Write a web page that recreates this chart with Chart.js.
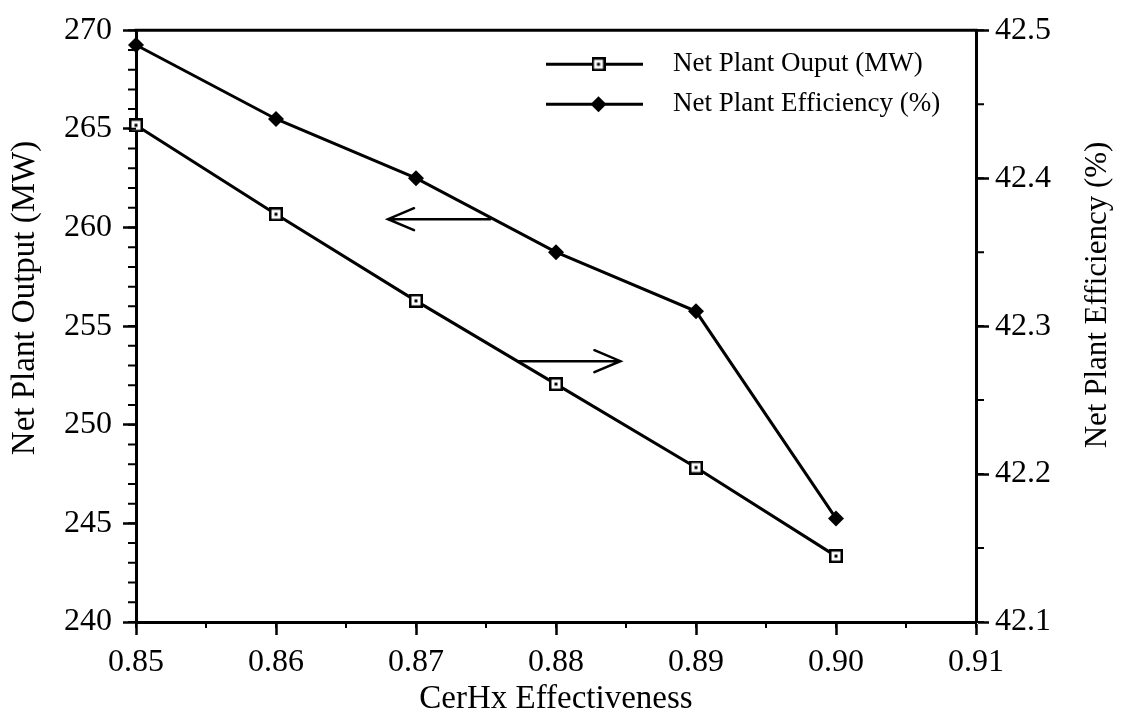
<!DOCTYPE html>
<html>
<head>
<meta charset="utf-8">
<title>Net Plant Output and Efficiency vs CerHx Effectiveness</title>
<script src="https://cdn.jsdelivr.net/npm/chart.js@4.4.1/dist/chart.umd.min.js"></script>
<style>
  body { margin: 0; background: #fff; }
  .box { position: relative; width: 1122px; height: 720px; }
</style>
</head>
<body>
<div class="box"><canvas id="chart-plant"></canvas></div>
<script>
// Data
const effectiveness = [0.85, 0.86, 0.87, 0.88, 0.89, 0.90];
const netOutput = [265.18, 260.67, 256.28, 252.06, 247.83, 243.34];   // MW
const netEfficiency = [42.49, 42.44, 42.40, 42.35, 42.31, 42.17];     // %
const xTicks = [0.85, 0.86, 0.87, 0.88, 0.89, 0.90, 0.91];
const outputTicks = [240, 245, 250, 255, 260, 265, 270];
const efficiencyTicks = [42.1, 42.2, 42.3, 42.4, 42.5];

const SERIF = "'Liberation Serif', 'Times New Roman', Times, serif";

// open square with a dot in the middle
function boxMarker(size) {
  const c = document.createElement('canvas');
  c.width = size; c.height = size;
  const g = c.getContext('2d');
  g.fillStyle = '#fff';
  g.fillRect(0, 0, size, size);
  g.strokeStyle = '#000';
  g.lineWidth = 2.5;
  g.strokeRect(1.25, 1.25, size - 2.5, size - 2.5);
  g.fillStyle = '#000';
  g.fillRect(size / 2 - 1.5, size / 2 - 1.5, 3, 3);
  return c;
}
const squarePt = boxMarker(14);

// small ticks between the labelled ones
const minorTicks = {
  id: 'minorTicks',
  afterDraw(chart) {
    const {ctx, chartArea: a, scales} = chart;
    const marks = (scale, step, fn) => {
      const n = Math.round((scale.max - scale.min) / step);
      for (let i = 0; i <= n; i++) fn(scale.getPixelForValue(scale.min + i * step));
    };
    ctx.save();
    ctx.strokeStyle = '#000';
    ctx.lineWidth = 2;
    ctx.beginPath();
    marks(scales.x, 0.005, p => { ctx.moveTo(p, a.bottom); ctx.lineTo(p, a.bottom + 6); });
    marks(scales.yOutput, 1, p => { ctx.moveTo(a.left - 8, p); ctx.lineTo(a.left, p); });
    marks(scales.yEfficiency, 0.05, p => { ctx.moveTo(a.right, p); ctx.lineTo(a.right + 8, p); });
    ctx.stroke();
    // closing line along the top
    ctx.lineWidth = 3;
    ctx.beginPath();
    ctx.moveTo(a.left - 1.5, a.top);
    ctx.lineTo(a.right + 1.5, a.top);
    ctx.stroke();
    ctx.restore();
  }
};

// rotated y titles, both reading bottom to top
const sideTitles = {
  id: 'sideTitles',
  afterDraw(chart) {
    const {ctx, chartArea: a} = chart;
    const put = (text, x, y, size) => {
      ctx.save();
      ctx.translate(x, y);
      ctx.rotate(-Math.PI / 2);
      ctx.font = size + 'px ' + SERIF;
      ctx.fillStyle = '#000';
      ctx.textAlign = 'center';
      ctx.textBaseline = 'middle';
      ctx.fillText(text, 0, 0);
      ctx.restore();
    };
    put('Net Plant Output (MW)', a.left - 111, 298, 33);
    put('Net Plant Efficiency (%)', a.right + 122, 295, 31);
  }
};

// arrows telling which axis each curve is read on
const axisArrows = {
  id: 'axisArrows',
  afterDraw(chart) {
    const {ctx, scales} = chart;
    const y = scales.yOutput, x = scales.x;
    const arrows = [
      {from: 0.8753, to: 0.8680, at: 260.42},
      {from: 0.8773, to: 0.8846, at: 253.22}
    ];
    ctx.save();
    ctx.strokeStyle = '#000';
    ctx.lineWidth = 2.5;
    ctx.lineCap = 'round';
    arrows.forEach(ar => {
      const x0 = x.getPixelForValue(ar.from), x1 = x.getPixelForValue(ar.to);
      const py = y.getPixelForValue(ar.at);
      const d = x1 > x0 ? -26 : 26;
      ctx.beginPath();
      ctx.moveTo(x0, py);
      ctx.lineTo(x1, py);
      ctx.moveTo(x1 + d, py - 11);
      ctx.lineTo(x1, py);
      ctx.lineTo(x1 + d, py + 11);
      ctx.stroke();
    });
    ctx.restore();
  }
};

// legend inside the plot, upper right
const boxLegend = {
  id: 'boxLegend',
  afterDraw(chart) {
    const {ctx, chartArea: a} = chart;
    chart.data.datasets.forEach((ds, i) => {
      const y = a.top + 34 + i * 40;
      const x0 = a.left + 410, x1 = a.left + 507;
      ctx.save();
      ctx.strokeStyle = '#000';
      ctx.fillStyle = '#000';
      ctx.lineWidth = 3;
      ctx.beginPath();
      ctx.moveTo(x0, y);
      ctx.lineTo(x1, y);
      ctx.stroke();
      Chart.helpers.drawPoint(ctx, {pointStyle: ds.pointStyle, radius: ds.pointRadius, borderWidth: 0, rotation: 0}, (x0 + x1) / 2 + 4, y);
      ctx.font = '27px ' + SERIF;
      ctx.textBaseline = 'middle';
      ctx.fillText(ds.label, a.left + 537, y);
      ctx.restore();
    });
  }
};

!function(){
  const ctx = document.getElementById('chart-plant');
  const tickFont = {family: SERIF, size: 32};

  new Chart(ctx, {
    type: 'line',
    data: {
      datasets: [{
        label: 'Net Plant Ouput (MW)',
        data: effectiveness.map((v, i) => ({x: v, y: netOutput[i]})),
        yAxisID: 'yOutput',
        borderColor: '#000',
        borderWidth: 3,
        pointStyle: squarePt,
        pointRadius: 7,
        tension: 0,
        clip: false
      }, {
        label: 'Net Plant Efficiency (%)',
        data: effectiveness.map((v, i) => ({x: v, y: netEfficiency[i]})),
        yAxisID: 'yEfficiency',
        borderColor: '#000',
        borderWidth: 3,
        pointStyle: 'rectRot',
        pointRadius: 8,
        pointBackgroundColor: '#000',
        pointBorderWidth: 0,
        tension: 0,
        clip: false
      }]
    },
    options: {
      responsive: true,
      maintainAspectRatio: false,
      animation: false,
      layout: { padding: { top: 20 } },
      plugins: {
        legend: { display: false },
        tooltip: { enabled: false }
      },
      scales: {
        x: {
          type: 'linear',
          min: 0.85,
          max: 0.91,
          afterBuildTicks: s => { s.ticks = xTicks.map(v => ({value: v})); },
          afterFit: s => { s.height = 98; },
          ticks: { callback: v => v.toFixed(2), font: tickFont, color: '#000', padding: 8, maxRotation: 0, autoSkip: false },
          grid: { drawOnChartArea: false, tickLength: 13, tickWidth: 2.5, tickColor: '#000' },
          border: { color: '#000', width: 3 },
          title: { display: true, text: 'CerHx Effectiveness', font: {family: SERIF, size: 33}, color: '#000', padding: {top: 0, bottom: 1} }
        },
        yOutput: {
          position: 'left',
          min: 240,
          max: 270,
          afterBuildTicks: s => { s.ticks = outputTicks.map(v => ({value: v})); },
          afterFit: s => { s.width = 136; },
          ticks: { callback: v => String(v), font: tickFont, color: '#000', padding: 11 },
          grid: { drawOnChartArea: false, tickLength: 13, tickWidth: 2.5, tickColor: '#000' },
          border: { color: '#000', width: 3 }
        },
        yEfficiency: {
          position: 'right',
          min: 42.1,
          max: 42.5,
          afterBuildTicks: s => { s.ticks = efficiencyTicks.map(v => ({value: v})); },
          afterFit: s => { s.width = 146; },
          ticks: { callback: v => v.toFixed(1), font: tickFont, color: '#000', padding: 6 },
          grid: { drawOnChartArea: false, tickLength: 13, tickWidth: 2.5, tickColor: '#000' },
          border: { color: '#000', width: 3 }
        }
      }
    },
    plugins: [minorTicks, sideTitles, axisArrows, boxLegend]
  });
}();
</script>
</body>
</html>
